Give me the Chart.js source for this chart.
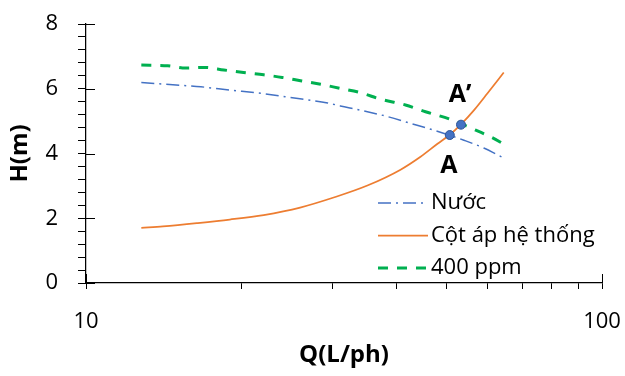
<!DOCTYPE html>
<html>
<head>
<meta charset="utf-8">
<script src="https://cdn.jsdelivr.net/npm/chart.js@4.4.1/dist/chart.umd.min.js"></script>
<style>
  html, body { margin: 0; padding: 0; background: #fff; }
  #wrap { width: 625px; height: 376px; }
</style>
</head>
<body>
<div id="wrap"><canvas id="chartCanvas"></canvas></div>
<script>
const seriesNames = ['Nước', 'Cột áp hệ thống', '400 ppm'];

// Nước
const nuocQ = [12.8, 15.2, 16.7, 19.0, 21.8, 24.9, 29.4, 31.1, 34.0, 38.4, 42.6, 47.2, 50.5, 54.0, 59.0, 64.5];
const nuocH = [6.19, 6.11, 6.06, 5.96, 5.86, 5.73, 5.56, 5.47, 5.34, 5.14, 4.93, 4.72, 4.57, 4.41, 4.17, 3.86];

// Cột áp hệ thống
const heQ = [12.8, 14.1, 16.4, 19.0, 22.1, 26.0, 30.2, 35.1, 40.7, 44.5, 48.0, 50.7, 53.3, 56.5, 60.0, 64.5];
const heH = [1.70, 1.75, 1.85, 1.96, 2.10, 2.33, 2.64, 3.01, 3.50, 3.90, 4.30, 4.58, 4.90, 5.34, 5.86, 6.50];

// 400 ppm
const ppmQ = [12.8, 14.4, 15.6, 17.0, 18.5, 20.2, 22.1, 24.0, 26.2, 28.5, 31.1, 34.0, 37.2, 41.6, 45.5, 50.9, 56.4, 60.9, 65.4];
const ppmH = [6.73, 6.71, 6.64, 6.66, 6.58, 6.50, 6.43, 6.35, 6.24, 6.14, 6.01, 5.88, 5.68, 5.50, 5.29, 5.05, 4.75, 4.51, 4.24];

// diem lam viec A, A'
const pointNames = ['A', 'A’'];
const pointQ = [50.7, 53.3];
const pointH = [4.57, 4.89];

const xTickValues = [10, 20, 30, 40, 50, 60, 70, 80, 90, 100];
const xTickLabels = [10, 100];
const yTickLabels = [0, 2, 4, 6, 8];

const toXY = (xs, ys) => xs.map((x, i) => ({ x: x, y: ys[i] }));
const FONT = "'Open Sans', sans-serif";
Chart.defaults.font.family = FONT;
Chart.defaults.color = '#000';

// ve them: vach chia chinh, chu thich, nhan A / A'
const decor = {
    id: 'decor',
    afterDraw(chart) {
        const ctx = chart.ctx;
        const area = chart.chartArea;
        const xs = chart.scales.x, ys = chart.scales.y;
        ctx.save();
        ctx.strokeStyle = '#000';
        ctx.lineWidth = 1;
        yTickLabels.forEach(v => {
            const py = Math.round(ys.getPixelForValue(v)) + 0.5;
            ctx.beginPath(); ctx.moveTo(area.left, py); ctx.lineTo(area.left + 9, py); ctx.stroke();
        });
        xTickLabels.forEach(v => {
            const px = Math.round(xs.getPixelForValue(v)) + 0.5;
            ctx.beginPath(); ctx.moveTo(px, area.bottom); ctx.lineTo(px, area.bottom - 9); ctx.stroke();
        });

        // legend
        chart.data.datasets.slice(0, 3).forEach((d, i) => {
            const y = area.bottom - 80 + i * 32.5;
            ctx.strokeStyle = d.borderColor;
            ctx.lineWidth = d.borderWidth;
            ctx.setLineDash(d.borderDash || []);
            ctx.beginPath(); ctx.moveTo(area.right - 224, y); ctx.lineTo(area.right - 174, y); ctx.stroke();
            ctx.setLineDash([]);
            ctx.fillStyle = '#000';
            ctx.font = '22px ' + FONT;
            ctx.textBaseline = 'middle';
            ctx.textAlign = 'left';
            ctx.fillText(d.label, area.right - 171, y);
        });

        // A, A'
        ctx.font = 'bold 25px ' + FONT;
        ctx.textAlign = 'center';
        ctx.textBaseline = 'middle';
        pointNames.forEach((n, i) => {
            const px = xs.getPixelForValue(pointQ[i]);
            const py = ys.getPixelForValue(pointH[i]);
            ctx.fillText(n, px - 1, py + (i === 0 ? 31 : -30));
        });
        ctx.restore();
    }
};

new Chart(document.getElementById('chartCanvas'), {
    type: 'line',
    data: {
        datasets: [{
            label: seriesNames[0],
            data: toXY(nuocQ, nuocH),
            borderColor: '#4472C4',
            borderWidth: 1.5,
            borderDash: [13, 5, 2, 5],
            pointRadius: 0,
            cubicInterpolationMode: 'monotone',
            order: 1
        }, {
            label: seriesNames[1],
            data: toXY(heQ, heH),
            borderColor: '#ED7D31',
            borderWidth: 1.75,
            pointRadius: 0,
            cubicInterpolationMode: 'monotone',
            order: 2
        }, {
            label: seriesNames[2],
            data: toXY(ppmQ, ppmH),
            borderColor: '#00B050',
            borderWidth: 3,
            borderDash: [10, 9],
            pointRadius: 0,
            cubicInterpolationMode: 'monotone',
            order: 3
        }, {
            label: 'A',
            data: toXY(pointQ, pointH),
            showLine: false,
            pointRadius: 4.5,
            backgroundColor: '#4472C4',
            borderColor: '#2F5597',
            borderWidth: 1,
            order: 0
        }]
    },
    options: {
        responsive: true,
        maintainAspectRatio: false,
        animation: false,
        layout: { padding: { top: 24, right: 23, left: 0, bottom: 0 } },
        scales: {
            x: {
                type: 'logarithmic',
                min: 10,
                max: 100,
                border: { color: '#000', width: 1.25 },
                grid: { drawOnChartArea: false, tickLength: 6, color: '#000', lineWidth: 1 },
                afterBuildTicks: (s) => { s.ticks = xTickValues.map(v => ({ value: v })); },
                ticks: {
                    autoSkip: false,
                    maxRotation: 0,
                    padding: 20,
                    font: { size: 22 },
                    callback: (v) => xTickLabels.includes(v) ? String(v) : ''
                },
                title: {
                    display: true,
                    text: 'Q(L/ph)',
                    font: { size: 24, weight: 'bold' },
                    padding: { top: 0, bottom: 6 }
                },
                afterFit: (s) => { s.height = 93; s.paddingLeft = 0; s.paddingRight = 0; }
            },
            y: {
                min: 0,
                max: 8,
                border: { color: '#000', width: 1.25 },
                grid: { drawOnChartArea: false, tickLength: 8, color: '#000', lineWidth: 1 },
                ticks: {
                    stepSize: 0.4,
                    maxTicksLimit: 40,
                    autoSkip: false,
                    padding: 20,
                    font: { size: 22 },
                    callback: (v) => {
                        const hit = yTickLabels.find(t => Math.abs(t - v) < 1e-6);
                        return hit !== undefined ? String(hit) : '';
                    }
                },
                title: {
                    display: true,
                    text: 'H(m)',
                    font: { size: 24, weight: 'bold' },
                    padding: { top: 6, bottom: 0 }
                },
                afterFit: (s) => { s.width = 86; s.paddingTop = 0; s.paddingBottom = 0; }
            }
        },
        plugins: {
            legend: { display: false },
            tooltip: { enabled: false }
        }
    },
    plugins: [decor]
});
</script>
</body>
</html>
